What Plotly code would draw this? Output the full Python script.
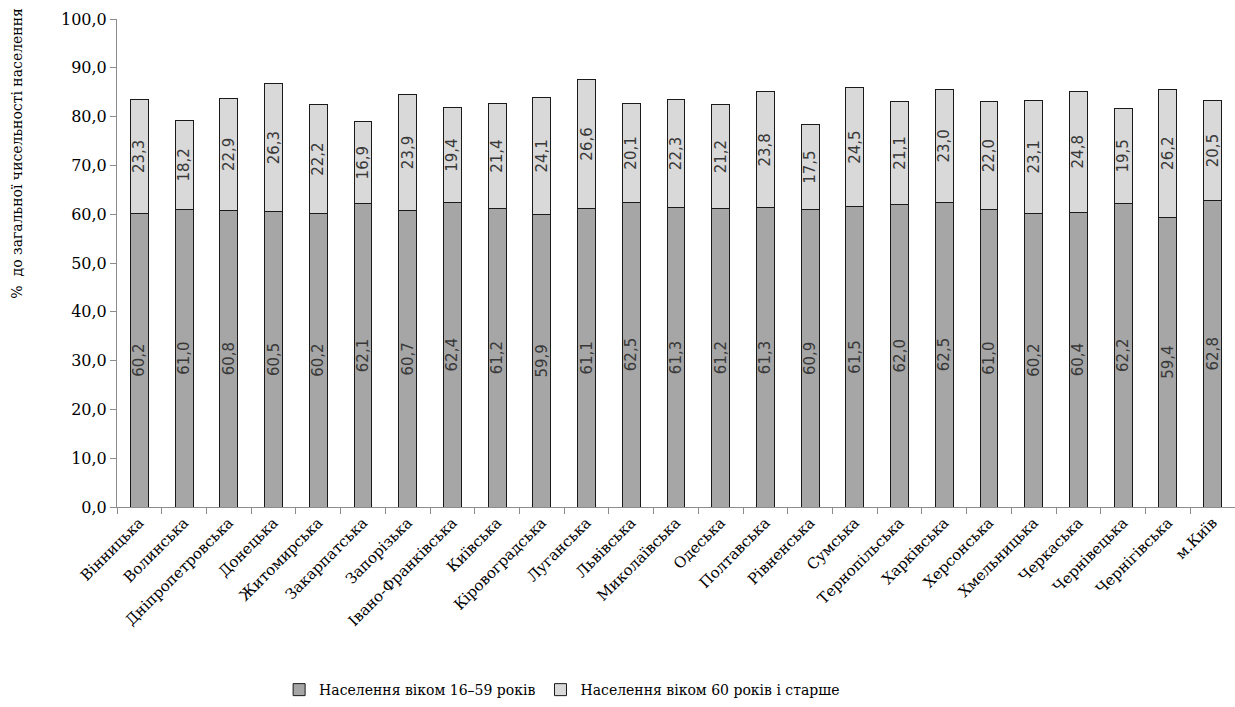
import plotly.graph_objects as go

regions = ["Вінницька", "Волинська", "Дніпропетровська", "Донецька", "Житомирська",
           "Закарпатська", "Запорізька", "Івано-Франківська", "Київська", "Кіровоградська",
           "Луганська", "Львівська", "Миколаївська", "Одеська", "Полтавська", "Рівненська",
           "Сумська", "Тернопільська", "Харківська", "Херсонська", "Хмельницька",
           "Черкаська", "Чернівецька", "Чернігівська", "м.Київ"]

age_16_59 = [60.2, 61.0, 60.8, 60.5, 60.2, 62.1, 60.7, 62.4, 61.2, 59.9, 61.1, 62.5, 61.3,
             61.2, 61.3, 60.9, 61.5, 62.0, 62.5, 61.0, 60.2, 60.4, 62.2, 59.4, 62.8]
age_60_plus = [23.3, 18.2, 22.9, 26.3, 22.2, 16.9, 23.9, 19.4, 21.4, 24.1, 26.6, 20.1, 22.3,
               21.2, 23.8, 17.5, 24.5, 21.1, 23.0, 22.0, 23.1, 24.8, 19.5, 26.2, 20.5]

series_names = ["Населення віком 16–59 років", "Населення віком 60 років і старше"]
y_ticks = [0, 10, 20, 30, 40, 50, 60, 70, 80, 90, 100]

serif = "DejaVu Serif"
sans = "DejaVu Sans"

fig = go.Figure()
fig.add_trace(go.Bar(
    x=regions, y=age_16_59, name=series_names[0],
    marker=dict(color="#A6A6A6", line=dict(color="#1a1a1a", width=1)),
    texttemplate="%{y:.1f}", textposition="inside", insidetextanchor="middle",
    textangle=-90, textfont=dict(family=sans, size=15, color="#383838"),
))
fig.add_trace(go.Bar(
    x=regions, y=age_60_plus, name=series_names[1],
    marker=dict(color="#D9D9D9", line=dict(color="#1a1a1a", width=1)),
    texttemplate="%{y:.1f}", textposition="inside", insidetextanchor="middle",
    textangle=-90, textfont=dict(family=sans, size=15, color="#383838"),
))

fig.update_layout(
    barmode="stack",
    bargap=0.6,
    width=1235, height=707,
    margin=dict(l=117, r=0, t=19, b=200, autoexpand=False),
    plot_bgcolor="white", paper_bgcolor="white",
    separators=", ",
    uniformtext=dict(minsize=15, mode="show"),
    font=dict(family=serif, size=15, color="#000000"),
    showlegend=True,
    legend=dict(
        orientation="h", xref="container", yref="container",
        x=0.226, xanchor="left", y=0.024, yanchor="middle",
        font=dict(family=serif, size=14, color="#000000"),
        itemwidth=30,
        traceorder="normal",
    ),
    xaxis=dict(
        type="category",
        automargin=False,
        tickangle=-45,
        tickfont=dict(family=serif, size=15, color="#000000"),
        showline=True, linecolor="#8c8c8c", linewidth=1,
        ticks="outside", ticklen=6, tickcolor="#8c8c8c", tickson="boundaries",
        showgrid=False,
    ),
    yaxis=dict(
        automargin=False,
        range=[0, 100],
        tickvals=y_ticks,
        tickformat=".1f",
        tickfont=dict(family=serif, size=16, color="#000000"),
        showline=True, linecolor="#8c8c8c", linewidth=1,
        ticks="outside", ticklen=6, tickcolor="#8c8c8c",
        showgrid=False, zeroline=False,
    ),
    annotations=[dict(
        text="%  до загальної чисельності населення",
        xref="paper", yref="paper", x=-0.089, y=0.725,
        xanchor="center", yanchor="middle", textangle=-90, showarrow=False,
        font=dict(family=serif, size=14, color="#000000"),
    )],
)

fig.write_html(
    "out.html",
    config={"displayModeBar": False},
    post_script="document.body.style.margin='0';document.body.style.overflow='hidden';",
)
